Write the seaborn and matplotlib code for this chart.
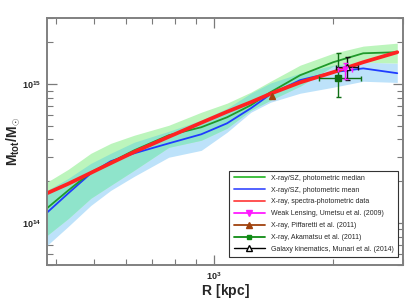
import numpy as np
import matplotlib
matplotlib.use("Agg")
import matplotlib.pyplot as plt
import seaborn as sns
from matplotlib.lines import Line2D
from matplotlib import ticker

# radii (kpc) where the profiles are read
radius = [380, 430, 490, 550, 630, 770, 930, 1080, 1240, 1390, 1650, 2000, 2380, 2900]

# masses in units of 1e14 Msun
median_phot = [1.28, 1.72, 2.32, 2.74, 3.34, 4.29, 4.90, 5.78, 7.06, 8.76, 11.6, 14.4, 16.7, 17.0]
median_hi = [1.97, 2.44, 3.18, 3.75, 4.29, 5.06, 6.28, 7.30, 8.76, 10.5, 13.7, 16.7, 18.8, 19.75]
median_lo = [0.815, 1.08, 1.51, 1.87, 2.40, 3.51, 3.95, 4.82, 6.49, 7.67, 9.67, 13.5, 14.4, 14.2]

mean_phot = [1.19, 1.64, 2.28, 2.79, 3.18, 3.75, 4.36, 5.23, 6.71, 8.47, 10.7, 12.2, 13.0, 12.0]
mean_hi = [1.72, 2.10, 2.69, 3.18, 3.82, 4.58, 5.50, 6.71, 8.61, 10.2, 12.0, 13.7, 14.4, 14.2]
mean_lo = [0.690, 0.947, 1.34, 1.72, 2.17, 2.98, 3.34, 4.51, 6.28, 7.42, 8.61, 9.51, 10.5, 10.3]

spectra_phot = [1.64, 1.92, 2.30, 2.70, 3.25, 4.18, 5.28, 6.33, 7.42, 8.54, 10.3, 12.2, 14.4, 17.0]

# single measurements: R, R_lo, R_hi, M, M_lo, M_hi  (M in 1e14)
umetsu = [2143, 2058, 2228, 12.8, 10.9, 14.3]
piffaretti = [1406, 1406, 1406, 8.19, 8.19, 8.19]
akamatsu = [2062, 1845, 2351, 11.1, 8.10, 16.65]
munari = [2172, 2031, 2315, 13.2, 10.8, 15.7]

sns.set_style("ticks")
plt.rcParams["font.family"] = ["Liberation Sans", "DejaVu Sans"]
plt.rcParams["mathtext.fontset"] = "custom"
plt.rcParams["mathtext.rm"] = "Liberation Sans"
plt.rcParams["mathtext.bf"] = "Liberation Sans:bold"

R = np.array(radius, dtype=float)
s = 1e14
g_lo, g_hi = np.array(median_lo) * s, np.array(median_hi) * s
b_lo, b_hi = np.array(mean_lo) * s, np.array(mean_hi) * s

fig = plt.figure(figsize=(4.16, 2.99), dpi=100)
ax = fig.add_axes([0.113, 0.114, 0.856, 0.826])
ax.set_xscale("log")
ax.set_yscale("log")

c_green_band = "#bcf5bc"
c_blue_band = "#bde2fa"
c_overlap = "#8fe4cb"
ax.fill_between(R, b_lo, b_hi, color=c_blue_band, lw=0)
ax.fill_between(R, g_lo, g_hi, color=c_green_band, lw=0)
ov_lo = np.maximum(g_lo, b_lo)
ov_hi = np.minimum(g_hi, b_hi)
ax.fill_between(R, ov_lo, ov_hi, where=ov_hi > ov_lo, interpolate=True, color=c_overlap, lw=0)

c_green = "#1f9a2a"
c_blue = "#1f3cff"
c_red = "#ff2222"
sns.lineplot(x=R, y=np.array(mean_phot) * s, ax=ax, color=c_blue, lw=1.3)
sns.lineplot(x=R, y=np.array(median_phot) * s, ax=ax, color=c_green, lw=1.3)
sns.lineplot(x=R, y=np.array(spectra_phot) * s, ax=ax, color=c_red, lw=2.7)

def point(d, color, marker, ms, mfc=None):
    x, xl, xh, y, yl, yh = d
    ax.errorbar([x], [y * s], xerr=[[x - xl], [xh - x]], yerr=[[(y - yl) * s], [(yh - y) * s]],
                fmt=marker, color=color, ms=ms, mfc=mfc if mfc else color, mec=color,
                elinewidth=1.0, capsize=1.8, capthick=1.0, zorder=5)

point(akamatsu, "#0f6e14", "s", 4)
point(munari, "#111111", "^", 4, mfc="white")
point(umetsu, "#ff1aff", "v", 3.5)
ax.plot([piffaretti[0]], [piffaretti[3] * s], "^", color="#a0420e", ms=5, zorder=5)

ax.set_xlim(380, 3000)
ax.set_ylim(5e13, 3e15)

ax.xaxis.set_major_locator(ticker.FixedLocator([1000]))
ax.xaxis.set_minor_locator(ticker.LogLocator(base=10, subs=np.arange(2, 10)))
ax.xaxis.set_minor_formatter(ticker.NullFormatter())
ax.xaxis.set_major_formatter(ticker.FixedFormatter([r"$\mathbf{10^{3}}$"]))
ax.yaxis.set_major_locator(ticker.FixedLocator([1e14, 1e15]))
ax.yaxis.set_major_formatter(ticker.FixedFormatter([r"$\mathbf{10^{14}}$", r"$\mathbf{10^{15}}$"]))
ax.yaxis.set_minor_locator(ticker.LogLocator(base=10, subs=np.arange(2, 10)))
ax.yaxis.set_minor_formatter(ticker.NullFormatter())

ax.tick_params(which="both", direction="in", top=True, right=True, color="#7a7a7a", labelsize=6.5, pad=4)
ax.tick_params(which="major", length=7, width=0.9)
ax.tick_params(which="minor", length=4, width=0.8)
for sp in ax.spines.values():
    sp.set_color("#808080")
    sp.set_linewidth(1.4)

ax.set_xlabel(r"$\mathbf{R\ [kpc]}$", fontsize=10, labelpad=0)
ax.set_ylabel(r"$\mathbf{M_{tot}/M_{\odot}}$", fontsize=10, labelpad=0)

handles = [
    Line2D([], [], color="#33bb33", lw=1.3),
    Line2D([], [], color="#4455ff", lw=1.3),
    Line2D([], [], color="#ff4444", lw=1.3),
    Line2D([], [], color="#ff1aff", lw=1.3, marker="v", ms=4),
    Line2D([], [], color="#a0420e", lw=1.3, marker="^", ms=4),
    Line2D([], [], color="#0f8a14", lw=1.3, marker="s", ms=3.5),
    Line2D([], [], color="black", lw=1.0, marker="^", ms=4, mfc="white"),
]
labels = [
    "X-ray/SZ, photometric median",
    "X-ray/SZ, photometric mean",
    "X-ray, spectra-photometric data",
    "Weak Lensing, Umetsu et al. (2009)",
    "X-ray, Piffaretti et al. (2011)",
    "X-ray, Akamatsu et al. (2011)",
    "Galaxy kinematics, Munari et al. (2014)",
]
leg = ax.legend(handles, labels, loc="lower right", bbox_to_anchor=(0.986, 0.032), borderaxespad=0,
                fontsize=5, handlelength=4.5, handletextpad=0.9, labelspacing=0.7,
                fancybox=False, framealpha=1, edgecolor="#333333", borderpad=0.6)
leg.get_frame().set_linewidth(0.8)

fig.savefig("out.png", dpi=100)
